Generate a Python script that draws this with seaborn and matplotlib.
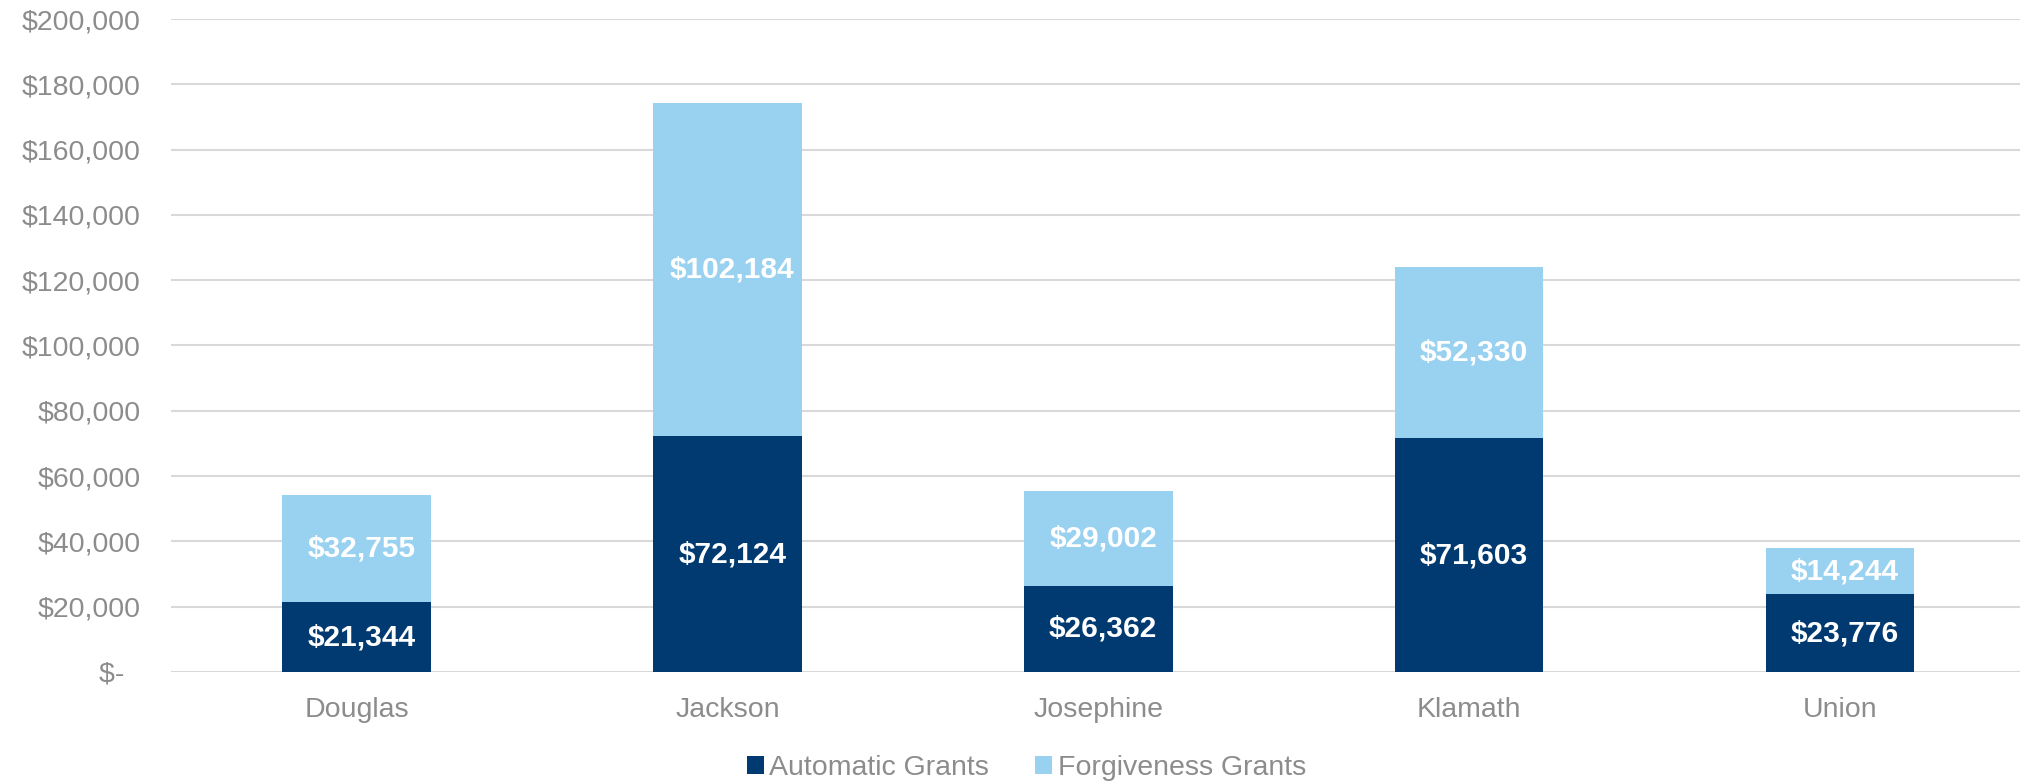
import matplotlib
matplotlib.use("Agg")
import matplotlib.pyplot as plt
from matplotlib.patches import Patch
import seaborn as sns
import pandas as pd

counties = ["Douglas", "Jackson", "Josephine", "Klamath", "Union"]
automatic = [21344, 72124, 26362, 71603, 23776]
forgiveness = [32755, 102184, 29002, 52330, 14244]
y_ticks = [0, 20000, 40000, 60000, 80000, 100000, 120000, 140000, 160000, 180000, 200000]

dark = "#003A70"
light = "#99D1F1"
gray = "#8C8C8C"

sns.set_theme(style="white")
plt.rcParams["font.family"] = ["Liberation Sans", "DejaVu Sans"]

totals = [a + f for a, f in zip(automatic, forgiveness)]
df = pd.DataFrame({"county": counties, "automatic": automatic,
                   "forgiveness": forgiveness, "total": totals})

fig = plt.figure(figsize=(20.2, 7.82), dpi=100)
ax = fig.add_axes([0.0847, 0.1407, 0.9153, 0.835])

sns.barplot(data=df, x="county", y="total", color=light, width=0.4,
            saturation=1, ax=ax, zorder=3, linewidth=0, edgecolor="none")
sns.barplot(data=df, x="county", y="automatic", color=dark, width=0.4,
            saturation=1, ax=ax, zorder=3, linewidth=0, edgecolor="none")

for i, (a, f) in enumerate(zip(automatic, forgiveness)):
    ax.annotate(f"${a:,}", (i, a / 2), xytext=(5, 0), textcoords="offset pixels",
                ha="center", va="center", color="white", fontsize=21.5,
                fontweight="bold", zorder=5)
    ax.annotate(f"${f:,}", (i, a + f / 2), xytext=(5, 0), textcoords="offset pixels",
                ha="center", va="center", color="white", fontsize=21.5,
                fontweight="bold", zorder=5)

ax.set_ylim(0, 200000)
ax.set_xlim(-0.5, 4.485)
ax.set_yticks(y_ticks)
ax.set_yticklabels(["$-  "] + [f"${v:,}" for v in y_ticks[1:]])
ax.yaxis.grid(True, color="#D9D9D9", linewidth=1.5, zorder=0)
ax.xaxis.grid(False)
for s in ax.spines.values():
    s.set_visible(False)
ax.tick_params(axis="y", length=0, pad=22, labelsize=20.5, labelcolor=gray)
ax.tick_params(axis="x", length=0, pad=18, labelsize=20.5, labelcolor=gray)
ax.set_xlabel("")
ax.set_ylabel("")

handles = [Patch(facecolor=dark, edgecolor="none", label="Automatic Grants"),
           Patch(facecolor=light, edgecolor="none", label="Forgiveness Grants")]
fig.legend(handles=handles, loc="center", bbox_to_anchor=(0.508, 0.018), ncol=2,
           frameon=False, fontsize=20.5, labelcolor=gray, handlelength=0.6,
           handleheight=0.6, handletextpad=0.2, columnspacing=1.6)

fig.savefig("out.png", dpi=100)
